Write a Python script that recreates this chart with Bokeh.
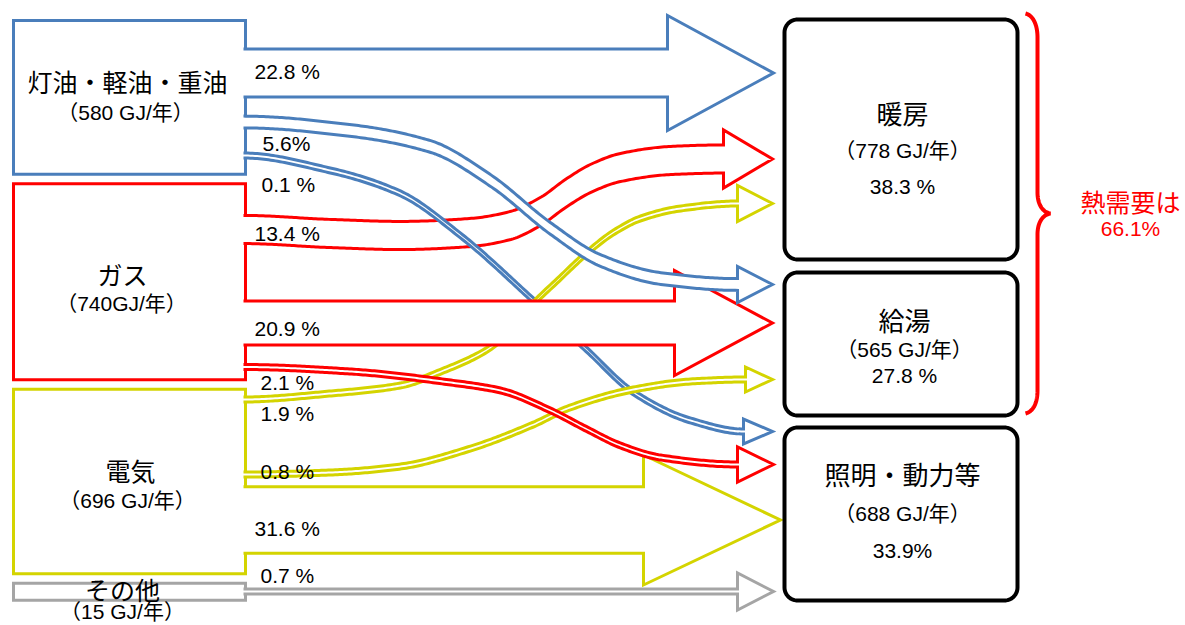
import numpy as np
from bokeh.plotting import figure
from bokeh.models import Range1d
from bokeh.core.properties import value
from bokeh.embed import file_html
from bokeh.resources import INLINE

# ---------------- data ----------------
source_names = ["灯油・軽油・重油", "ガス", "電気", "その他"]
source_gj = [580, 740, 696, 15]
source_gj_sep = [" ", "", " ", " "]

use_names = ["暖房", "給湯", "照明・動力等"]
use_gj = [778, 565, 688]
use_pct = [38.3, 27.8, 33.9]
use_pct_sep = [" ", " ", ""]

flow_from = ["灯油・軽油・重油", "灯油・軽油・重油", "灯油・軽油・重油",
             "ガス", "ガス", "ガス",
             "電気", "電気", "電気",
             "その他"]
flow_to = ["暖房", "給湯", "照明・動力等",
           "暖房", "給湯", "照明・動力等",
           "暖房", "給湯", "照明・動力等",
           "照明・動力等"]
flow_pct = [22.8, 5.6, 0.1, 13.4, 20.9, 2.1, 1.9, 0.8, 31.6, 0.7]
flow_pct_sep = [" ", "", " ", " ", " ", " ", " ", " ", " ", " "]

heat_uses = ["暖房", "給湯"]

# ---------------- layout / style ----------------
W, H = 1185, 625
BLUE, RED, YELLOW, GRAY = "#4A7EBB", "#FF0000", "#D4D400", "#A5A5A5"
source_colors = [BLUE, RED, YELLOW, GRAY]

PX_PER_GJ = 0.265        # source box height per GJ
MIN_BOX_H = 17
BOX_X0, BOX_X1 = 13, 245
BOX_TOP, BOX_GAP = 20, 9.5
PX_PER_PCT = 2.1         # band thickness per percent
MIN_BAND = 5

src_title_xy = [(127, 80), (122, 273), (130, 469), (122, 588)]
src_sub_xy = [(125, 112), (121, 303), (127, 500), (122, 611)]

USE_X0, USE_X1, USE_R = 784, 1017, 13
use_box_y = [(19, 259), (272, 415), (427, 600)]
use_text_x = [902, 904, 902]
use_title_y = [112, 319, 473]
use_sub_y = [150, 349, 513]
use_pct_y = [186, 375, 550]

FLOW_X0 = 243
# route of each flow: centre-line waypoints (curved) or centre y (straight),
# arrow-head base x, head half height, tip x, label anchor
routes = [
    dict(y=72.5, xh=667, hh=57.5, xt=773, lab=(254, 71)),
    dict(pts=[(243, 121.5), (350, 130), (430, 146), (490, 180), (550, 228),
              (600, 260), (660, 278), (737, 284)], hh=18, xt=772, lab=(262, 143)),
    dict(pts=[(243, 155), (330, 170), (400, 193), (460, 235), (533, 300),
              (587, 350), (633, 392), (690, 420), (743, 431)], hh=12.5, xt=772, lab=(261, 184)),
    dict(pts=[(243, 229), (330, 233), (400, 235), (470, 232), (510, 225),
              (540, 211), (565, 193), (590, 178), (620, 167), (670, 160),
              (723, 158.5)], hh=29, xt=772, lab=(254, 233)),
    dict(y=322.5, xh=674, hh=52.5, xt=772, lab=(254, 328)),
    dict(pts=[(243, 366.5), (350, 371), (450, 382), (500, 390), (550, 410),
              (585, 428), (620, 445), (660, 457), (737, 464)], hh=17.5, xt=773, lab=(260, 382)),
    dict(pts=[(243, 399), (330, 393), (400, 385), (443, 370), (487, 349),
              (510, 330), (533, 303), (557, 280), (587, 252), (613, 232),
              (640, 218), (680, 208), (737, 203)], hh=18, xt=772, lab=(260, 413)),
    dict(pts=[(243, 474), (330, 472), (400, 466), (467, 449), (533, 424),
              (567, 408), (633, 389), (690, 381), (745, 379)], hh=12.5, xt=772, lab=(260, 471)),
    dict(y=519.5, xh=643, hh=65, xt=780, lab=(254, 528)),
    dict(y=591, xh=737, hh=18.5, xt=773, lab=(260, 575)),
]
draw_order = [3, 2, 6, 7, 0, 4, 8, 1, 5, 9]

NUM_FONT = value("Liberation Sans, Noto Sans CJK JP")
JP_FONT = value("Noto Sans CJK JP")
NUM_SIZE = value("21px")


def pchip(xk, yk, x):
    """Monotone piecewise cubic through the waypoints, flat at both ends."""
    xk = np.asarray(xk, float)
    yk = np.asarray(yk, float)
    h = np.diff(xk)
    d = np.diff(yk) / h
    n = len(xk)
    m = np.zeros(n)
    for k in range(1, n - 1):
        if d[k - 1] * d[k] > 0:
            w1 = 2 * h[k] + h[k - 1]
            w2 = h[k] + 2 * h[k - 1]
            m[k] = (w1 + w2) / (w1 / d[k - 1] + w2 / d[k])
    idx = np.clip(np.searchsorted(xk, x) - 1, 0, n - 2)
    t = (x - xk[idx]) / h[idx]
    h00 = 2 * t**3 - 3 * t**2 + 1
    h10 = t**3 - 2 * t**2 + t
    h01 = -2 * t**3 + 3 * t**2
    h11 = t**3 - t**2
    return h00 * yk[idx] + h10 * h[idx] * m[idx] + h01 * yk[idx + 1] + h11 * h[idx] * m[idx + 1]


def arrow_path(route, band):
    if "pts" in route:
        px, py = zip(*route["pts"])
        xh = px[-1]
        xs = np.linspace(FLOW_X0, xh, 220)
        yc = pchip(px, py, xs)
    else:
        xh = route["xh"]
        xs = np.array([FLOW_X0, xh], float)
        yc = np.array([route["y"], route["y"]], float)
    ye = yc[-1]
    hh, xt = route["hh"], route["xt"]
    ox = list(xs) + [xh, xt, xh] + list(xs[::-1])
    oy = list(yc - band / 2) + [ye - hh, ye, ye + hh] + list((yc + band / 2)[::-1])
    return ox, oy


def rounded_rect(x0, y0, x1, y1, r, n=14):
    xs, ys = [], []
    corners = [(x1 - r, y0 + r, -90, 0), (x1 - r, y1 - r, 0, 90),
               (x0 + r, y1 - r, 90, 180), (x0 + r, y0 + r, 180, 270)]
    for cx, cy, a0, a1 in corners:
        a = np.radians(np.linspace(a0, a1, n))
        xs += list(cx + r * np.cos(a))
        ys += list(cy + r * np.sin(a))
    return xs, ys


def bezier(p0, c1, c2, p3, n=30):
    t = np.linspace(0, 1, n)[:, None]
    P = ((1 - t)**3 * np.array(p0) + 3 * (1 - t)**2 * t * np.array(c1)
         + 3 * (1 - t) * t**2 * np.array(c2) + t**3 * np.array(p3))
    return list(P[:, 0]), list(P[:, 1])


p = figure(width=W, height=H, x_range=Range1d(0, W), y_range=Range1d(H, 0),
           output_backend="svg", toolbar_location=None, min_border=0,
           x_axis_location=None, y_axis_location=None)
p.grid.visible = False
p.outline_line_color = None
p.background_fill_color = "white"
p.border_fill_color = "white"

# ---- source boxes (height from annual energy) ----
tops, bottoms = [], []
y = BOX_TOP
for gj in source_gj:
    h = max(gj * PX_PER_GJ, MIN_BOX_H)
    tops.append(y)
    bottoms.append(y + h)
    y += h + BOX_GAP
p.quad(left=[BOX_X0] * 4, right=[BOX_X1] * 4, top=tops, bottom=bottoms,
       fill_color="white", line_color=source_colors, line_width=3, line_join="miter")

# ---- flows ----
for i in draw_order:
    color = source_colors[source_names.index(flow_from[i])]
    band = max(flow_pct[i] * PX_PER_PCT, MIN_BAND)
    ox, oy = arrow_path(routes[i], band)
    p.patch(ox, oy, fill_color="white", line_color=None)
    p.line(ox, oy, line_color=color, line_width=3, line_join="miter", line_cap="butt")

# ---- end-use boxes ----
bx, by = [], []
for y0, y1 in use_box_y:
    xs, ys = rounded_rect(USE_X0, y0, USE_X1, y1, USE_R)
    bx.append(xs)
    by.append(ys)
p.patches(bx, by, fill_color="white", line_color="black", line_width=4)

# ---- brace over heat demand ----
heat_idx = [use_names.index(u) for u in heat_uses]
b_top = use_box_y[min(heat_idx)][0] - 6
b_bot = use_box_y[max(heat_idx)][1] - 2
b_mid = (b_top + b_bot) / 2
bxs, bys = [], []
for seg in [((1025, b_top), (1033, b_top + 2), (1037, b_top + 12), (1037, b_top + 24)),
            ((1037, b_mid - 21), (1037, b_mid - 8), (1043, b_mid - 1), (1050, b_mid)),
            ((1050, b_mid), (1043, b_mid + 1), (1037, b_mid + 8), (1037, b_mid + 21)),
            ((1037, b_bot - 23), (1037, b_bot - 11), (1033, b_bot - 2), (1025, b_bot))]:
    sx, sy = bezier(*seg)
    bxs += sx
    bys += sy
p.line(bxs, bys, line_color=RED, line_width=4)

heat_total = round(sum(use_pct[k] for k in heat_idx), 1)
p.text(x=[1130], y=[b_mid - 13], text=["熱需要は"], text_font=JP_FONT,
       text_font_size=value("25px"), text_color=RED, text_align="center", text_baseline="middle")
p.text(x=[1130], y=[b_mid + 15], text=[f"{heat_total}%"], text_font=NUM_FONT,
       text_font_size=NUM_SIZE, text_color=RED, text_align="center", text_baseline="middle")

# ---- texts ----
p.text(x=[xy[0] for xy in src_title_xy], y=[xy[1] for xy in src_title_xy], text=source_names,
       text_font=JP_FONT, text_font_size=value("25px"), text_color="black",
       text_align="center", text_baseline="middle")
p.text(x=[xy[0] for xy in src_sub_xy], y=[xy[1] for xy in src_sub_xy],
       text=[f"（{g}{s}GJ/年）" for g, s in zip(source_gj, source_gj_sep)],
       text_font=NUM_FONT, text_font_size=NUM_SIZE, text_color="black",
       text_align="center", text_baseline="middle")

p.text(x=use_text_x, y=use_title_y, text=use_names, text_font=JP_FONT,
       text_font_size=value("26px"), text_color="black", text_align="center", text_baseline="middle")
p.text(x=use_text_x, y=use_sub_y, text=[f"（{g} GJ/年）" for g in use_gj], text_font=NUM_FONT,
       text_font_size=NUM_SIZE, text_color="black", text_align="center", text_baseline="middle")
p.text(x=use_text_x, y=use_pct_y, text=[f"{v}{s}%" for v, s in zip(use_pct, use_pct_sep)],
       text_font=NUM_FONT, text_font_size=NUM_SIZE, text_color="black",
       text_align="center", text_baseline="middle")

p.text(x=[r["lab"][0] for r in routes], y=[r["lab"][1] for r in routes],
       text=[f"{v}{s}%" for v, s in zip(flow_pct, flow_pct_sep)],
       text_font=NUM_FONT, text_font_size=NUM_SIZE, text_color="black",
       text_align="left", text_baseline="middle")

open("out.html", "w").write(file_html(p, INLINE))
